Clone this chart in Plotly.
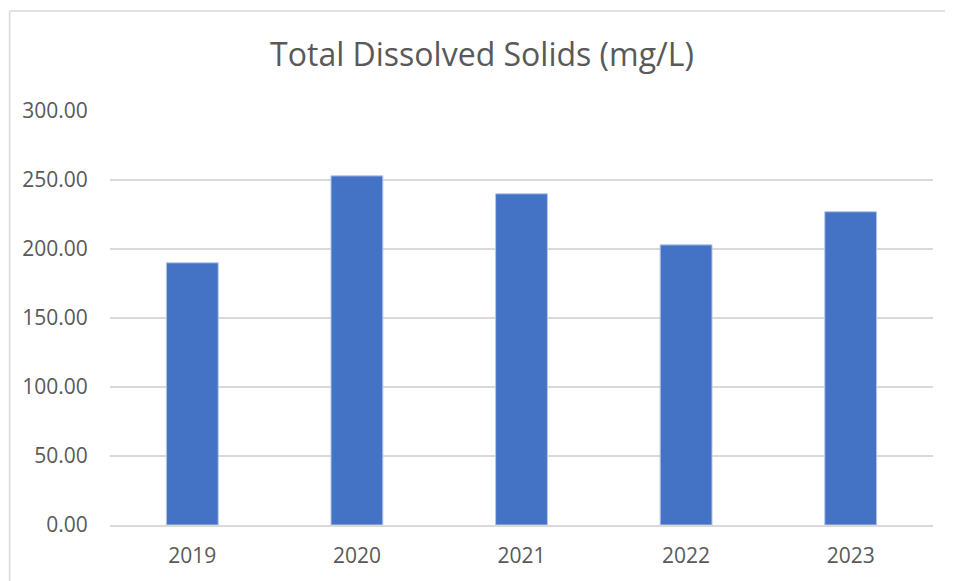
import plotly.graph_objects as go

years = ["2019", "2020", "2021", "2022", "2023"]
tds = [190.0, 253.0, 240.0, 203.0, 227.0]
y_ticks = [0, 50, 100, 150, 200, 250, 300]

fig = go.Figure(
    go.Bar(
        x=years,
        y=tds,
        marker=dict(color="#4472c4", line=dict(color="#b4c7e7", width=1)),
    )
)

frame = dict(color="#d9d9d9", width=1.5)

fig.update_layout(
    width=945,
    height=573,
    paper_bgcolor="white",
    plot_bgcolor="white",
    margin=dict(l=102, r=20, t=103, b=56),
    bargap=0.685,
    showlegend=False,
    title=dict(
        text="Total Dissolved Solids (mg/L)",
        x=0.5016,
        xanchor="center",
        y=0.918,
        yanchor="middle",
        font=dict(family="Open Sans", size=32, color="#595959"),
    ),
    font=dict(family="Open Sans", color="#595959"),
    shapes=[
        # chart frame: only top and left edges are visible in the crop
        dict(type="line", xref="paper", yref="paper", x0=-0.122, x1=1.2,
             y0=1.2415, y1=1.2415, line=frame),
        dict(type="line", xref="paper", yref="paper", x0=-0.122, x1=-0.122,
             y0=-0.3, y1=1.2415, line=frame),
    ],
)

fig.update_yaxes(
    range=[0, 300],
    tickvals=y_ticks,
    tickformat=".2f",
    showgrid=True,
    gridcolor="#d9d9d9",
    gridwidth=1.5,
    zeroline=False,
    showline=False,
    ticks="outside",
    ticklen=17,
    tickcolor="rgba(0,0,0,0)",
    tickfont=dict(size=21, color="#595959"),
)

fig.update_xaxes(
    showline=True,
    linecolor="#d9d9d9",
    linewidth=1.5,
    ticks="outside",
    ticklen=11,
    tickcolor="rgba(0,0,0,0)",
    tickfont=dict(size=21, color="#595959"),
)

fig.write_html("out.html")
